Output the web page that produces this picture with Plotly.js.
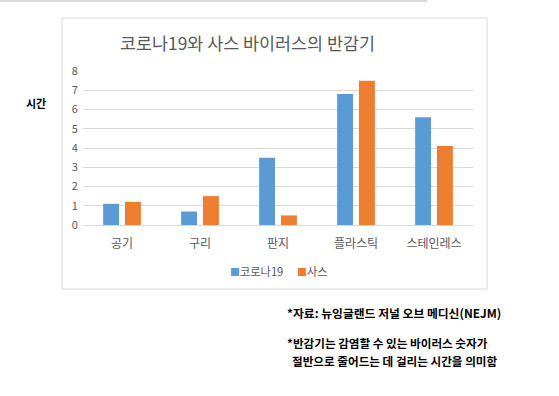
<!DOCTYPE html>
<html><head><meta charset="utf-8">
<script src="https://cdn.plot.ly/plotly-3.0.1.min.js"></script>
<style>html,body{margin:0;padding:0;background:#fff;}#chart{width:559px;height:396px;}</style>
</head><body><div id="chart"></div>
<script>
const categories = ['공기', '구리', '판지', '플라스틱', '스테인레스'];
const covid19 = [1.1, 0.7, 3.5, 6.8, 5.6];
const sars = [1.2, 1.5, 0.5, 7.5, 4.1];
const yTicks = [0, 1, 2, 3, 4, 5, 6, 7, 8];

const font = '"Noto Sans CJK KR", "Noto Sans", sans-serif';
const traces = [
  {type: 'bar', name: '코로나19', x: categories, y: covid19, marker: {color: '#5B9BD5'}},
  {type: 'bar', name: '사스', x: categories, y: sars, marker: {color: '#ED7D31'}}
];
const legendX = [0.372, 0.544];
const legendAnn = traces.map((t, i) => ({
  text: `<span style="color:${t.marker.color};font-size:10px">■</span>${t.name}`,
  xref: 'paper', yref: 'paper', x: legendX[i], y: -0.3, xanchor: 'left', yanchor: 'middle',
  showarrow: false, font: {size: 11.2, color: '#595959', family: font}
}));
const layout = {
  width: 559, height: 396,
  margin: {l: 83, r: 86, t: 71, b: 171},
  paper_bgcolor: '#fff', plot_bgcolor: '#fff',
  font: {family: font, color: '#595959'},
  barmode: 'group', bargap: 0.44, bargroupgap: 0.27,
  showlegend: false,
  xaxis: {showgrid: false, showline: true, linecolor: '#d9d9d9', linewidth: 1,
          ticks: 'outside', ticklen: 8, tickcolor: 'rgba(0,0,0,0)',
          tickfont: {size: 12, color: '#595959'}, fixedrange: true},
  yaxis: {range: [0, 8], tickvals: yTicks, showgrid: true, gridcolor: '#d9d9d9',
          zeroline: false, showline: false, tickfont: {size: 11, color: '#595959'},
          ticks: 'outside', ticklen: 2, tickcolor: 'rgba(0,0,0,0)', fixedrange: true},
  shapes: [
    {type: 'rect', xref: 'paper', yref: 'paper', x0: -0.0538, x1: 1.036, y0: -0.4156, y1: 1.344,
     line: {color: '#d9d9d9', width: 1}, fillcolor: 'rgba(0,0,0,0)', layer: 'below'},
    {type: 'line', xref: 'paper', yref: 'paper', x0: -0.2128, x1: 0.882, y0: 1.4545, y1: 1.4545,
     line: {color: '#d9d9d9', width: 2}}
  ],
  annotations: legendAnn.concat([
    {text: '코로나19와 사스 바이러스의 반감기', xref: 'paper', yref: 'paper', x: 0.423, y: 1.182,
     xanchor: 'center', yanchor: 'middle', showarrow: false, font: {size: 17.4, color: '#595959', family: font}},
    {text: '<b>시간</b>', xref: 'paper', yref: 'paper', x: -0.1205, y: 0.792,
     xanchor: 'center', yanchor: 'middle', showarrow: false, font: {size: 11, color: '#000', family: font}},
    {text: '<b>*자료: 뉴잉글랜드 저널 오브 메디신(NEJM)</b>', xref: 'paper', yref: 'paper', x: 0.518, y: -0.565,
     xanchor: 'left', yanchor: 'middle', showarrow: false, font: {size: 11.8, color: '#000', family: font}},
    {text: '<b>*반감기는 감염할 수 있는 바이러스 숫자가</b>', xref: 'paper', yref: 'paper', x: 0.518, y: -0.766,
     xanchor: 'left', yanchor: 'middle', showarrow: false, font: {size: 11.6, color: '#000', family: font}},
    {text: '<b>절반으로 줄어드는 데 걸리는 시간을 의미함</b>', xref: 'paper', yref: 'paper', x: 0.531, y: -0.883,
     xanchor: 'left', yanchor: 'middle', showarrow: false, font: {size: 11.6, color: '#000', family: font}}
  ])
};
Plotly.newPlot('chart', traces, layout, {staticPlot: true, displayModeBar: false});
</script></body></html>
